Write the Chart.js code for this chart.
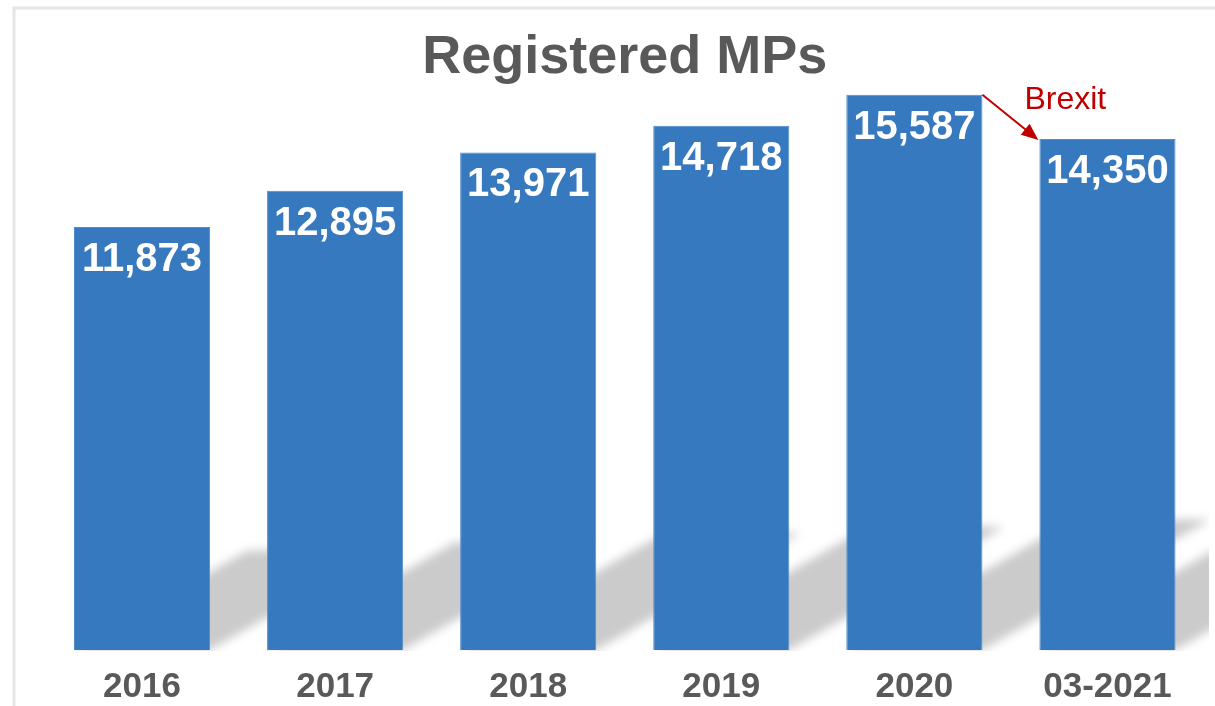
<!DOCTYPE html>
<html>
<head>
<meta charset="utf-8">
<script src="https://cdn.jsdelivr.net/npm/chart.js@4.4.1/dist/chart.umd.min.js"></script>
<style>
  html, body { margin: 0; padding: 0; background: #ffffff; }
  #wrap { width: 1215px; height: 706px; position: relative; }
</style>
</head>
<body>
<div id="wrap"><canvas id="c"></canvas></div>
<script>
const categories = ['2016', '2017', '2018', '2019', '2020', '03-2021'];
const registeredMPs = [11873, 12895, 13971, 14718, 15587, 14350];
const chartTitle = 'Registered MPs';
const annotationText = 'Brexit';
const annotationFrom = 4; // index of bar where the arrow starts
const annotationTo = 5;   // index of bar where the arrow ends

const FONT = "'Liberation Sans', Arial, Helvetica, sans-serif";

const framePlugin = {
  id: 'frame',
  beforeDraw(chart) {
    const ctx = chart.ctx;
    ctx.save();
    ctx.strokeStyle = '#e6e6e6';
    ctx.lineWidth = 3;
    ctx.beginPath();
    ctx.moveTo(14, chart.height);
    ctx.lineTo(14, 8);
    ctx.lineTo(chart.width, 8);
    ctx.stroke();
    ctx.restore();
  }
};

const shadowPlugin = {
  id: 'barShadow',
  beforeDatasetsDraw(chart) {
    const ctx = chart.ctx;
    const meta = chart.getDatasetMeta(0);
    ctx.save();
    ctx.beginPath();
    ctx.rect(16, 0, chart.width - 22, chart.chartArea.bottom + 1);
    ctx.clip();
    ctx.filter = 'blur(5px)';
    ctx.fillStyle = '#cbcbcb';
    meta.data.forEach(bar => {
      const w = bar.width;
      const x0 = bar.x - w / 2, x1 = bar.x + w / 2;
      const base = bar.base;
      const h = base - bar.y;
      const dx = h * 0.41, dy = h * 0.235;
      ctx.beginPath();
      ctx.moveTo(x0, base);
      ctx.lineTo(x1, base);
      ctx.lineTo(x1 + dx, base - dy);
      ctx.lineTo(x0 + dx, base - dy);
      ctx.closePath();
      ctx.fill();
    });
    ctx.restore();
  }
};

const valueLabelPlugin = {
  id: 'valueLabels',
  afterDatasetsDraw(chart) {
    const ctx = chart.ctx;
    const meta = chart.getDatasetMeta(0);
    const data = chart.data.datasets[0].data;
    ctx.save();
    ctx.fillStyle = '#ffffff';
    ctx.font = 'bold 40px ' + FONT;
    ctx.textAlign = 'center';
    ctx.textBaseline = 'middle';
    meta.data.forEach((bar, i) => {
      ctx.fillText(data[i].toLocaleString('en-US'), bar.x, bar.y + 33);
    });
    ctx.restore();
  }
};

const annotationPlugin = {
  id: 'brexitArrow',
  afterDraw(chart) {
    const ctx = chart.ctx;
    const meta = chart.getDatasetMeta(0);
    const a = meta.data[annotationFrom], b = meta.data[annotationTo];
    const sx = a.x + a.width / 2, sy = a.y;
    const ex = b.x - b.width / 2 - 1, ey = b.y + 1;
    const ang = Math.atan2(ey - sy, ex - sx);
    const L = 17, W = 7;
    ctx.save();
    ctx.strokeStyle = '#C00000';
    ctx.fillStyle = '#C00000';
    ctx.lineWidth = 2;
    ctx.beginPath();
    ctx.moveTo(sx, sy);
    ctx.lineTo(ex - Math.cos(ang) * (L - 2), ey - Math.sin(ang) * (L - 2));
    ctx.stroke();
    ctx.beginPath();
    ctx.moveTo(ex, ey);
    ctx.lineTo(ex - L * Math.cos(ang) + W * Math.sin(ang), ey - L * Math.sin(ang) - W * Math.cos(ang));
    ctx.lineTo(ex - L * Math.cos(ang) - W * Math.sin(ang), ey - L * Math.sin(ang) + W * Math.cos(ang));
    ctx.closePath();
    ctx.fill();
    ctx.font = '32px ' + FONT;
    ctx.textAlign = 'left';
    ctx.textBaseline = 'middle';
    ctx.fillText(annotationText, b.x - b.width / 2 - 15, b.y - 39);
    ctx.restore();
  }
};

new Chart(document.getElementById('c'), {
  type: 'bar',
  data: {
    labels: categories,
    datasets: [{
      label: chartTitle,
      data: registeredMPs,
      backgroundColor: '#3679BE',
      borderColor: '#4f8dcc',
      borderWidth: 1,
      categoryPercentage: 1,
      barPercentage: 0.705
    }]
  },
  options: {
    responsive: true,
    maintainAspectRatio: false,
    animation: false,
    layout: { padding: { left: 45.5, right: 11, top: 0, bottom: 2 } },
    plugins: {
      legend: { display: false },
      tooltip: { enabled: false },
      title: {
        display: true,
        text: chartTitle,
        color: '#595959',
        font: { family: FONT, size: 54, weight: 'bold', lineHeight: 1.2 },
        padding: { top: 26, bottom: 0 }
      }
    },
    scales: {
      x: {
        grid: { display: false, drawTicks: false },
        border: { display: false },
        afterFit(scale) { scale.height = 54; },
        ticks: {
          color: '#595959',
          font: { family: FONT, size: 35, weight: 'bold', lineHeight: 1.0 },
          padding: 20,
          maxRotation: 0,
          autoSkip: false
        }
      },
      y: {
        display: false,
        min: 0,
        max: 15700
      }
    }
  },
  plugins: [framePlugin, shadowPlugin, valueLabelPlugin, annotationPlugin]
});
</script>
</body>
</html>
